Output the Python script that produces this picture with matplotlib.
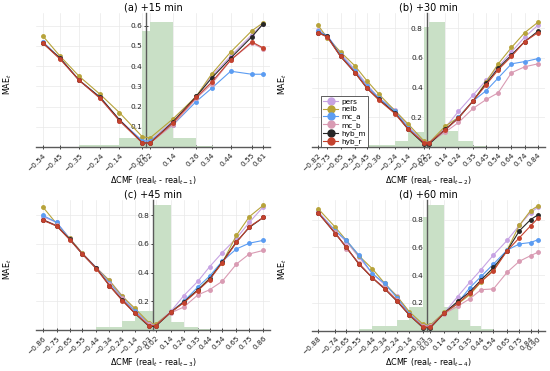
import numpy as np
import matplotlib
matplotlib.use("Agg")
import matplotlib.pyplot as plt

# ---------------- data ----------------
series_names = ["pers", "neib", "mc_a", "mc_b", "hyb_m", "hyb_r"]
series_colors = ["#c7a3e3", "#b7a33a", "#5b9cf2", "#d99bb3", "#262626", "#c4422e"]

titles = ["(a) +15 min", "(b) +30 min", "(c) +45 min", "(d) +60 min"]
xlabels = [r"ΔCMF (real$_t$ - real$_{t-1}$)", r"ΔCMF (real$_t$ - real$_{t-2}$)",
           r"ΔCMF (real$_t$ - real$_{t-3}$)", r"ΔCMF (real$_t$ - real$_{t-4}$)"]

a_x = [-0.54, -0.45, -0.35, -0.24, -0.14, -0.02, 0.02, 0.14, 0.26, 0.34, 0.44, 0.55, 0.61]
a_pers = [0.52, 0.44, 0.33, 0.245, 0.135, 0.03, 0.03, 0.13, 0.25, 0.35, 0.45, 0.555, 0.61]
a_neib = [0.55, 0.45, 0.35, 0.26, 0.17, 0.05, 0.045, 0.14, 0.25, 0.36, 0.47, 0.575, 0.615]
a_mc_a = [0.52, 0.44, 0.33, 0.245, 0.13, 0.03, 0.03, 0.11, 0.225, 0.29, 0.375, 0.36, 0.36]
a_mc_b = [0.515, 0.44, 0.33, 0.24, 0.13, 0.02, 0.02, 0.11, 0.24, 0.31, 0.43, 0.515, 0.485]
a_hyb_m = [0.515, 0.44, 0.33, 0.245, 0.135, 0.02, 0.02, 0.125, 0.25, 0.34, 0.44, 0.545, 0.61]
a_hyb_r = [0.515, 0.435, 0.33, 0.24, 0.13, 0.02, 0.02, 0.12, 0.245, 0.32, 0.43, 0.52, 0.49]
a_hist_edges = [-0.35, -0.14, -0.02, 0.02, 0.14, 0.26, 0.35]
a_hist_heights = [0.012, 0.046, 0.574, 0.62, 0.043, 0.006]
a_yticks = [0.1, 0.2, 0.3, 0.4, 0.5, 0.6]

b_x = [-0.82, -0.75, -0.65, -0.54, -0.45, -0.36, -0.24, -0.14, -0.02, 0.02,
       0.14, 0.24, 0.35, 0.45, 0.54, 0.64, 0.74, 0.84]
b_pers = [0.79, 0.75, 0.63, 0.52, 0.42, 0.33, 0.25, 0.14, 0.03, 0.03,
          0.13, 0.24, 0.35, 0.45, 0.54, 0.64, 0.74, 0.82]
b_neib = [0.82, 0.735, 0.64, 0.545, 0.445, 0.355, 0.245, 0.155, 0.04, 0.03,
          0.14, 0.2, 0.31, 0.44, 0.56, 0.67, 0.77, 0.84]
b_mc_a = [0.78, 0.75, 0.62, 0.51, 0.41, 0.33, 0.24, 0.13, 0.03, 0.03,
          0.11, 0.2, 0.31, 0.38, 0.465, 0.56, 0.575, 0.595]
b_mc_b = [0.77, 0.74, 0.61, 0.5, 0.4, 0.32, 0.23, 0.12, 0.03, 0.03,
          0.1, 0.165, 0.26, 0.32, 0.365, 0.5, 0.54, 0.56]
b_hyb_m = [0.77, 0.745, 0.61, 0.5, 0.395, 0.32, 0.23, 0.12, 0.02, 0.02,
           0.12, 0.195, 0.31, 0.43, 0.53, 0.62, 0.71, 0.78]
b_hyb_r = [0.77, 0.74, 0.61, 0.5, 0.395, 0.315, 0.225, 0.12, 0.03, 0.03,
           0.115, 0.195, 0.31, 0.42, 0.52, 0.61, 0.71, 0.77]
b_hist_edges = [-0.45, -0.24, -0.14, -0.02, 0.015, 0.14, 0.24, 0.35, 0.45]
b_hist_heights = [0.012, 0.04, 0.1, 0.81, 0.84, 0.105, 0.04, 0.01]
b_yticks = [0.2, 0.4, 0.6, 0.8]

c_x = [-0.86, -0.75, -0.65, -0.55, -0.44, -0.34, -0.24, -0.14, -0.03, 0.02,
       0.14, 0.24, 0.35, 0.44, 0.54, 0.65, 0.75, 0.86]
c_pers = [0.79, 0.75, 0.64, 0.535, 0.435, 0.345, 0.24, 0.14, 0.04, 0.04,
          0.13, 0.24, 0.34, 0.44, 0.54, 0.64, 0.75, 0.86]
c_neib = [0.86, 0.74, 0.64, 0.535, 0.43, 0.345, 0.235, 0.15, 0.05, 0.04,
          0.125, 0.2, 0.28, 0.36, 0.47, 0.66, 0.79, 0.87]
c_mc_a = [0.8, 0.75, 0.635, 0.53, 0.43, 0.33, 0.225, 0.13, 0.04, 0.03,
          0.125, 0.2, 0.3, 0.375, 0.48, 0.565, 0.605, 0.625]
c_mc_b = [0.77, 0.73, 0.635, 0.53, 0.43, 0.32, 0.22, 0.12, 0.04, 0.03,
          0.12, 0.16, 0.245, 0.28, 0.34, 0.46, 0.53, 0.555]
c_hyb_m = [0.77, 0.725, 0.635, 0.53, 0.43, 0.31, 0.21, 0.115, 0.025, 0.025,
           0.125, 0.195, 0.28, 0.355, 0.475, 0.615, 0.715, 0.785]
c_hyb_r = [0.765, 0.725, 0.63, 0.53, 0.425, 0.31, 0.205, 0.115, 0.03, 0.03,
           0.125, 0.19, 0.275, 0.35, 0.47, 0.61, 0.72, 0.785]
c_hist_edges = [-0.44, -0.24, -0.14, 0.0, 0.14, 0.24, 0.35, 0.44]
c_hist_heights = [0.02, 0.063, 0.135, 0.87, 0.058, 0.02, 0.008]
c_yticks = [0.2, 0.4, 0.6, 0.8]

d_x = [-0.88, -0.74, -0.65, -0.55, -0.44, -0.34, -0.24, -0.14, -0.03, 0.03,
       0.14, 0.25, 0.35, 0.44, 0.54, 0.65, 0.75, 0.84, 0.90]
d_pers = [0.86, 0.72, 0.64, 0.53, 0.41, 0.33, 0.25, 0.12, 0.04, 0.04,
          0.125, 0.245, 0.35, 0.44, 0.545, 0.65, 0.76, 0.85, 0.89]
d_neib = [0.88, 0.745, 0.65, 0.54, 0.445, 0.34, 0.245, 0.135, 0.045, 0.04,
          0.13, 0.19, 0.26, 0.35, 0.44, 0.58, 0.76, 0.865, 0.9]
d_mc_a = [0.85, 0.72, 0.65, 0.545, 0.41, 0.34, 0.235, 0.12, 0.03, 0.03,
          0.125, 0.2, 0.31, 0.39, 0.48, 0.58, 0.625, 0.635, 0.655]
d_mc_b = [0.85, 0.71, 0.59, 0.49, 0.38, 0.31, 0.22, 0.11, 0.03, 0.03,
          0.12, 0.175, 0.23, 0.295, 0.3, 0.42, 0.5, 0.54, 0.565]
d_hyb_m = [0.85, 0.70, 0.60, 0.48, 0.38, 0.30, 0.21, 0.11, 0.02, 0.02,
           0.125, 0.21, 0.28, 0.365, 0.455, 0.575, 0.72, 0.8, 0.835]
d_hyb_r = [0.85, 0.70, 0.60, 0.48, 0.38, 0.30, 0.215, 0.11, 0.025, 0.025,
           0.125, 0.195, 0.27, 0.355, 0.43, 0.575, 0.67, 0.755, 0.81]
d_hist_edges = [-0.55, -0.44, -0.24, -0.14, -0.03, 0.0, 0.14, 0.25, 0.35, 0.44, 0.54]
d_hist_heights = [0.01, 0.03, 0.076, 0.17, 0.82, 0.906, 0.17, 0.076, 0.035, 0.01]
d_yticks = [0.2, 0.4, 0.6, 0.8]

panels = [
    (a_x, [a_pers, a_neib, a_mc_a, a_mc_b, a_hyb_m, a_hyb_r], a_hist_edges, a_hist_heights, a_yticks),
    (b_x, [b_pers, b_neib, b_mc_a, b_mc_b, b_hyb_m, b_hyb_r], b_hist_edges, b_hist_heights, b_yticks),
    (c_x, [c_pers, c_neib, c_mc_a, c_mc_b, c_hyb_m, c_hyb_r], c_hist_edges, c_hist_heights, c_yticks),
    (d_x, [d_pers, d_neib, d_mc_a, d_mc_b, d_hyb_m, d_hyb_r], d_hist_edges, d_hist_heights, d_yticks),
]

# ---------------- layout (pixels) ----------------
W, H = 550, 371
boxes = [(36, 270, 13, 147), (311.5, 544.5, 13, 147), (36, 270, 200, 330), (311.5, 544.5, 200, 330.5)]
xlims = [(-0.575, 0.645), (-0.869, 0.889), (-0.911, 0.911), (-0.933, 0.953)]
ytops = [0.663, 0.902, 0.906, 0.942]

fig = plt.figure(figsize=(W / 100, H / 100), dpi=100)
axis_col = "#5a5a5a"
grid_col = "#e9e9e9"
hist_col = "#c9e0c6"

for i, (x, ys, he, hh, yt) in enumerate(panels):
    l, r, t, b = boxes[i]
    ax = fig.add_axes([l / W, 1 - b / H, (r - l) / W, (b - t) / H])
    ax.set_xlim(*xlims[i])
    ax.set_ylim(0, ytops[i])

    edges = np.array(he)
    ax.bar(edges[:-1], hh, width=np.diff(edges), align="edge", color=hist_col,
           edgecolor="none", zorder=1)

    for name, col, y in zip(series_names, series_colors, ys):
        ax.plot(x, y, "-o", color=col, lw=0.8, ms=2.5, label=name, zorder=3,
                clip_on=False)

    ax.spines["left"].set_position(("data", 0))
    ax.spines["bottom"].set_position(("data", 0))
    for s in ("top", "right"):
        ax.spines[s].set_visible(False)
    for s in ("left", "bottom"):
        ax.spines[s].set_color(axis_col)
        ax.spines[s].set_linewidth(1.0)
        ax.spines[s].set_zorder(2)

    ax.set_xticks(x)
    ax.set_xticklabels([f"{v:.2f}".replace("-", "\u2212") for v in x], rotation=45,
                       ha="right", va="top", rotation_mode="anchor")
    ax.set_yticks(yt)
    ax.set_yticklabels([f"{v:.1f}" for v in yt])
    ax.tick_params(axis="both", labelsize=5.3, colors="#222222", width=0.6,
                   length=2.5, direction="inout", pad=1.5)
    ax.tick_params(axis="x", pad=2.5)
    for tl in ax.get_xticklines() + ax.get_yticklines():
        tl.set_color(axis_col)
    ax.grid(True, color=grid_col, lw=0.5, zorder=0)
    ax.set_axisbelow(True)

    ax.set_title(titles[i], fontsize=7, pad=1.5)
    ax.set_xlabel(xlabels[i], fontsize=5.8, va="center")
    ax.set_ylabel(r"MAE$_t$", fontsize=5.8, va="center")
    lab_y_px = 181 if i < 2 else 362.5
    ax.xaxis.set_label_coords(0.5, -(lab_y_px - b) / (b - t))
    ylab_x_px = 7.5 if i % 2 == 0 else 283
    ax.yaxis.set_label_coords((ylab_x_px - l) / (r - l), 0.47)

    if i == 1:
        leg = ax.legend(loc="upper left", bbox_to_anchor=(0.025, 0.405), fontsize=5.3,
                        markerscale=2.0, handlelength=2.0, handletextpad=0.4,
                        labelspacing=0.18, borderpad=0.3, frameon=True,
                        fancybox=False, framealpha=1.0, edgecolor="#444444")
        leg.get_frame().set_linewidth(0.6)
        leg.set_zorder(5)

fig.savefig("out.png", dpi=100)
